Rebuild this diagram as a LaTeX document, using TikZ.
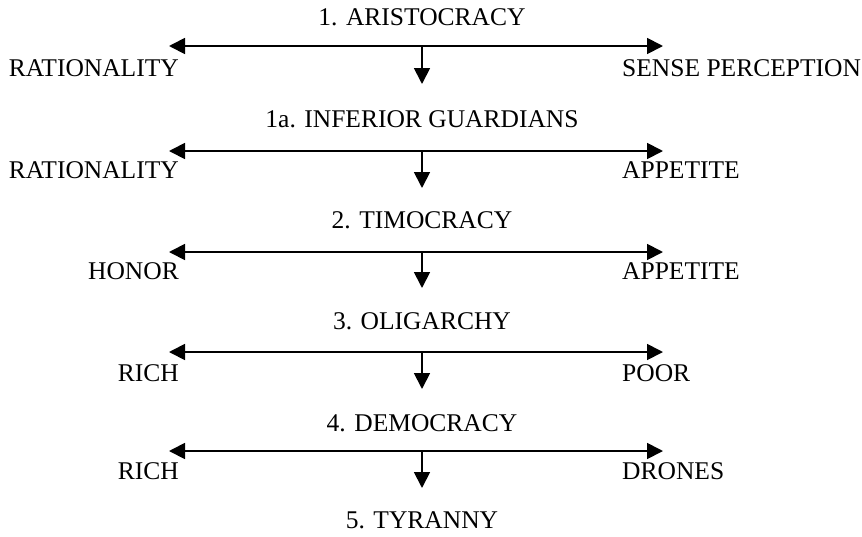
\documentclass[tikz,border=0pt]{standalone}
\usepackage{fontspec}
\setmainfont{Liberation Serif}
\usetikzlibrary{arrows.meta}
\tikzset{hd/.tip={Triangle[length=16pt,width=16pt]}}
\begin{document}
\begin{tikzpicture}[x=1pt,y=-1pt,
  lbl/.style={inner sep=0pt,font=\fontsize{25.5}{30}\selectfont},
  conn/.style={line width=1.8pt}]
\useasboundingbox (0,0) rectangle (862,536);
% titles
\node[lbl] (t1) at (422,17) {1. ARISTOCRACY};
\node[lbl] (t2) at (422,119) {1a. INFERIOR GUARDIANS};
\node[lbl] (t3) at (422,220) {2. TIMOCRACY};
\node[lbl] (t4) at (422,321) {3. OLIGARCHY};
\node[lbl] (t5) at (422,423) {4. DEMOCRACY};
\node[lbl] (t6) at (422,520) {5. TYRANNY};
% side labels
\node[lbl,anchor=east] (l1) at (179,68) {RATIONALITY};
\node[lbl,anchor=west] (r1) at (622,68) {SENSE PERCEPTION};
\node[lbl,anchor=east] (l2) at (179,170) {RATIONALITY};
\node[lbl,anchor=west] (r2) at (622,170) {APPETITE};
\node[lbl,anchor=east] (l3) at (179,271) {HONOR};
\node[lbl,anchor=west] (r3) at (622,271) {APPETITE};
\node[lbl,anchor=east] (l4) at (179,373) {RICH};
\node[lbl,anchor=west] (r4) at (622,373) {POOR};
\node[lbl,anchor=east] (l5) at (179,471) {RICH};
\node[lbl,anchor=west] (r5) at (622,471) {DRONES};
% arrows
\foreach \i/\y/\d in {1/46/84, 2/151/188, 3/252/288, 4/352/389, 5/451/488}{
  \coordinate (a\i) at (169,\y);
  \coordinate (b\i) at (663,\y);
  \coordinate (j\i) at (422,\y);
  \coordinate (d\i) at (422,\d);
  \draw[conn,{hd}-{hd}] (a\i) -- (b\i);
  \draw[conn,-{hd}] (j\i) -- (d\i);
}
\end{tikzpicture}
\end{document}
